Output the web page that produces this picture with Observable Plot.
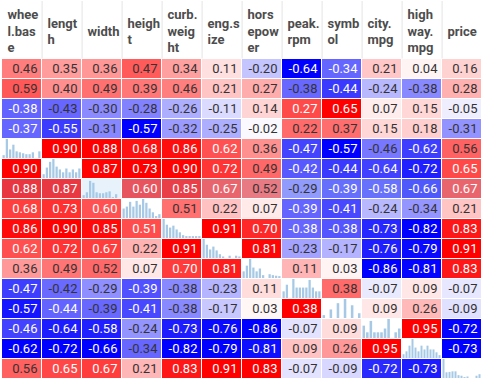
<!DOCTYPE html>
<html>
<head>
<meta charset="utf-8">
<script src="https://cdn.jsdelivr.net/npm/d3@7"></script>
<script src="https://cdn.jsdelivr.net/npm/@observablehq/plot@0.6"></script>
<style>
  html, body { margin: 0; padding: 0; background: #fff; }
  svg { display: block; }
</style>
</head>
<body>
<div id="chart"></div>
<script>
// ---- data ----
const columns = ["wheel.base","length","width","height","curb.weight","eng.size","horsepower","peak.rpm","symbol","city.mpg","highway.mpg","price"];
const headerLabels = ["whee\nl.bas\ne","lengt\nh","width","heigh\nt","curb.\nweig\nht","eng.s\nize","hors\nepow\ner","peak.\nrpm","symb\nol","city.\nmpg","high\nway.\nmpg","price"];
const extraRows = ["row1","row2","row3","row4"];
const rowNames = [...extraRows, ...columns];

const row1 = [0.46,0.35,0.36,0.47,0.34,0.11,-0.20,-0.64,-0.344,0.21,0.04,0.16];
const row2 = [0.59,0.40,0.49,0.39,0.46,0.21,0.27,-0.38,-0.44,-0.24,-0.38,0.28];
const row3 = [-0.38,-0.43,-0.30,-0.28,-0.26,-0.11,0.14,0.27,0.65,0.07,0.15,-0.05];
const row4 = [-0.374,-0.55,-0.31,-0.57,-0.32,-0.25,-0.02,0.22,0.37,0.15,0.18,-0.31];
const wheelBase  = [null,0.90,0.88,0.68,0.86,0.62,0.36,-0.47,-0.57,-0.46,-0.62,0.56];
const lengthR    = [0.90,null,0.87,0.73,0.90,0.72,0.49,-0.42,-0.44,-0.64,-0.72,0.65];
const widthR     = [0.88,0.87,null,0.60,0.85,0.67,0.52,-0.29,-0.39,-0.58,-0.66,0.67];
const heightR    = [0.68,0.73,0.60,null,0.51,0.22,0.07,-0.39,-0.41,-0.24,-0.34,0.21];
const curbWeight = [0.86,0.90,0.85,0.51,null,0.91,0.70,-0.384,-0.38,-0.73,-0.82,0.83];
const engSize    = [0.62,0.72,0.67,0.22,0.91,null,0.81,-0.23,-0.17,-0.76,-0.79,0.91];
const horsepower = [0.36,0.49,0.52,0.07,0.70,0.81,null,0.11,0.03,-0.86,-0.81,0.83];
const peakRpm    = [-0.47,-0.42,-0.29,-0.39,-0.38,-0.23,0.11,null,0.38,-0.07,0.09,-0.07];
const symbolR    = [-0.57,-0.44,-0.39,-0.41,-0.38,-0.17,0.03,0.38,null,0.09,0.26,-0.09];
const cityMpg    = [-0.46,-0.64,-0.58,-0.24,-0.73,-0.76,-0.86,-0.07,0.09,null,0.95,-0.72];
const highwayMpg = [-0.62,-0.72,-0.66,-0.34,-0.82,-0.79,-0.81,0.09,0.26,0.95,null,-0.73];
const priceR     = [0.56,0.65,0.67,0.21,0.83,0.91,0.83,-0.07,-0.09,-0.72,-0.73,null];
const matrix = [row1,row2,row3,row4,wheelBase,lengthR,widthR,heightR,curbWeight,engSize,horsepower,peakRpm,symbolR,cityMpg,highwayMpg,priceR];

// mini histograms on the diagonal (relative bar heights)
const histWheelBase  = [0.15,1.0,0.45,0.7,0.35,0.3,0.25,0.2,0.2,0.3,0,0.35];
const histLength     = [0.2,0.55,0.85,1.0,0.6,0.45,0.3,0.5,0.3,0.45,0.3,0.5];
const histWidth      = [0.15,0.3,0.9,0.8,0.3,0.25,0.25,0.3,0.35,0.05,0.2,0];
const histHeight     = [0.5,0.6,0.85,0.6,0.9,0.7,1.0,0.8,0.5,0.3,0.1,0.2];
const histCurbWeight = [1.0,0.7,0.55,0.65,0.45,0.3,0.15,0.1,0.1,0.1,0.1,0.1];
const histEngSize    = [1.0,0.7,0.45,0.6,0.4,0.2,0.08,0,0.12,0,0.12,0.08];
const histHorsepower = [0.35,0.65,1.0,0.55,0.35,0.5,0.15,0,0.2,0.15,0.12,0.1];
const histPeakRpm    = [0.35,0.7,0,1.0,0.55,0.55,0.55,0.55,0.95,0.55,0.35,0.35];
const histSymbol     = [0.15,0,0.45,0,0.78,0,1.0,0,0.67,0,0.25];
const histCityMpg    = [0.65,0.3,0.9,0.3,0.3,0.3,0.5,1.0,0,0.3,0.5];
const histHighwayMpg = [0.2,0.35,0.65,1.0,0.55,0.35,0.65,0.45,0.65,0.45,0.45,0.3,0.15];
const histPrice      = [1.0,0.3,0.32,0.35,0.35,0.15,0.12,0.05,0.08,0,0,0.12,0.2];
const hists = [histWheelBase,histLength,histWidth,histHeight,histCurbWeight,histEngSize,histHorsepower,histPeakRpm,histSymbol,histCityMpg,histHighwayMpg,histPrice];

const highlightedRow = "width";

// ---- derived tables ----
const cells = [];
matrix.forEach((vals, r) => vals.forEach((v, c) => {
  cells.push({row: rowNames[r], col: columns[c], value: v});
}));
const colExt = columns.map((c, j) => {
  const vs = matrix.map(r => r[j]).filter(v => v != null);
  return {min: d3.min(vs), max: d3.max(vs)};
});
const redI = d3.interpolateRgb("#ffffff", "#ff0000");
const blueI = d3.interpolateRgb("#ffffff", "#0000ff");
function strength(d) {
  if (d.value == null) return 0;
  const e = colExt[columns.indexOf(d.col)];
  return d.value >= 0 ? d.value / e.max : d.value / e.min;
}
function fillOf(d) {
  if (d.value == null) return "#ffffff";
  const t = strength(d);
  return d.value >= 0 ? redI(t) : blueI(t);
}
function isStrong(d) {
  if (d.value == null) return false;
  const t = strength(d);
  return d.value >= 0 ? t >= 0.68 : t >= 0.6;
}
cells.forEach(d => { d.fill = fillOf(d); d.strong = isStrong(d); });

const histBars = [];
hists.forEach((h, j) => h.forEach((v, i) => {
  histBars.push({row: columns[j], col: columns[j], x1: i / h.length, x2: (i + 1) / h.length, h: v});
}));
const header = columns.map((c, j) => ({col: c, row: rowNames[0], label: headerLabels[j], last: j === columns.length - 1}));

const plot = Plot.plot({
  width: 482,
  height: 379,
  marginTop: 58,
  marginBottom: 1,
  marginLeft: 0,
  marginRight: 0,
  style: {fontFamily: "Roboto, sans-serif", background: "#fff"},
  fx: {domain: columns, paddingInner: 0.03, paddingOuter: 0, axis: null},
  fy: {domain: rowNames, paddingInner: 0.06, paddingOuter: 0, axis: null},
  x: {domain: [0, 1], axis: null},
  y: {domain: [0, 1], axis: null},
  marks: [
    Plot.rect(cells, {fx: "col", fy: "row", fill: "fill"}),
    Plot.rect(histBars, {fx: "col", fy: "row", x1: "x1", x2: "x2", y1: 0, y2: "h", fill: "#a7c9e5", insetLeft: 0.5, insetRight: 0.5}),
    Plot.rect([highlightedRow], {fy: d => d, fill: "#a4ccf0", fillOpacity: 0.25}),
    Plot.ruleX(header.filter(d => !d.last), {fx: "col", fy: "row", x: 1, dx: 0.6, insetTop: -58, insetBottom: 19.5, stroke: "#e4e4e4"}),
    Plot.text(header, {fx: "col", fy: "row", text: "label", frameAnchor: "top-left", dx: 5, dy: -29, lineAnchor: "middle", textAnchor: "start", lineHeight: 1.25, fontSize: 13, fontWeight: "bold", fill: "#4d4d4d"}),
    Plot.text(cells.filter(d => d.value != null), {
      fx: "col", fy: "row",
      text: d => d.value.toFixed(2),
      frameAnchor: "right", dx: -4,
      fontSize: 13,
      fill: d => d.strong ? "#ffffff" : "#333333",
      fontWeight: d => d.strong ? "bold" : "normal"
    })
  ]
});
document.getElementById("chart").appendChild(plot);
</script>
</body>
</html>
